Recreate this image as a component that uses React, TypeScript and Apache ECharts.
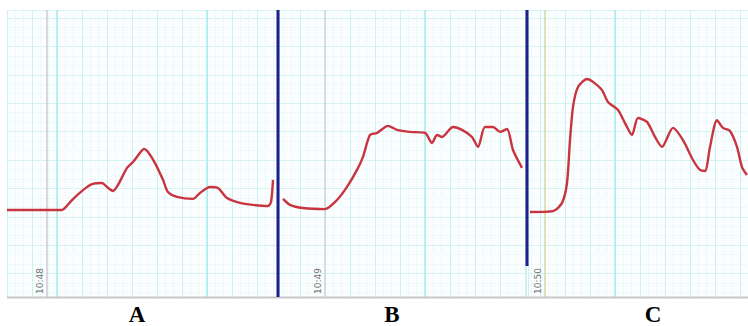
import React, { useEffect, useRef } from 'react';
import * as echarts from 'echarts';

// Panel labels and the clock times printed next to the event markers
const panelNames = ['A', 'B', 'C'];
const timeLabels = ['10:48', '10:49', '10:50'];
// x position (s) of the event marker in each panel
const markerTimes = [8, 10, 1];
// brighter cyan reference lines in each panel (s)
const highlightA = [10, 40];
const highlightB = [30];
const highlightC = [15];
// visible time window of each panel (s)
const rangeA = [0, 54];
const rangeB = [0.8, 50.2];
const rangeC = [-2.4, 41.6];
// vertical range (signal units)
const yRange = [-8.24, 92.8];

// traces: [time s, signal]
const traceA: [number, number][] = [
  [0, 22.4], [6, 22.4], [11, 22.4], [11.8, 23.5], [13, 25.9], [15.2, 29.4], [17, 31.5],
  [19, 31.9], [20, 30.5], [21.2, 29.1], [22.2, 31.2], [24, 37.2], [25.2, 39.3],
  [26.6, 42.5], [27.4, 43.9], [28.2, 42.8], [29.6, 38.9], [31.2, 33.0], [32.2, 28.7],
  [34, 27.0], [37.2, 26.3], [38.6, 28.4], [40.6, 30.5], [42.2, 30.1], [44, 26.6],
  [46.6, 24.9], [49.2, 24.2], [52.2, 23.8], [52.8, 25.2], [53.2, 33.0],
];
const traceB: [number, number][] = [
  [1.6, 26.3], [3, 24.2], [5.6, 23.1], [10, 22.7], [12.4, 25.9], [14.4, 30.5],
  [16.4, 36.5], [17.6, 41.1], [19, 48.8], [20.4, 49.5], [22.6, 52.0], [24.4, 50.6],
  [27, 49.9], [30, 49.5], [31.4, 46.0], [32.4, 48.8], [33.4, 48.1], [35.6, 51.6],
  [37.4, 50.6], [39.4, 48.1], [40.6, 44.6], [42, 51.6], [43.6, 51.6], [45, 49.9],
  [46.4, 50.9], [47.6, 43.5], [49.4, 37.2],
];
const traceC: [number, number][] = [
  [-2, 21.7], [2.6, 22.0], [4.4, 24.9], [5.4, 31.9], [6, 47.0], [6.6, 58.7],
  [7.6, 65.7], [9.4, 68.5], [10.6, 67.5], [12.4, 64.6], [13.6, 60.4], [15.6, 57.6],
  [17, 53.0], [18.4, 48.8], [19.6, 54.8], [21.4, 53.4], [23, 48.1], [24.4, 44.6],
  [26.6, 51.3], [28.6, 47.0], [30.6, 40.0], [32, 36.5], [33, 36.1], [34, 44.6],
  [35.4, 54.0], [36.6, 51.3], [38, 50.2], [39.4, 44.6], [40.4, 37.5], [41.4, 34.7],
];

const traces = [traceA, traceB, traceC];
const highlights = [highlightA, highlightB, highlightC];
const ranges = [rangeA, rangeB, rangeC];

export default function App() {
  const ref = useRef<HTMLDivElement>(null);
  useEffect(() => {
    document.body.style.margin = '0';
    if (!ref.current) return;
    const chart = echarts.init(ref.current, null, { renderer: 'svg' });
    const panels = [
      { left: 7, width: 270, split: 11 },
      { left: 279, width: 247, split: 10 },
      { left: 528, width: 220, split: 9 },
    ];
    const markerColors = ['#d2c8da', '#cfd6d6', '#d6d4a2'];
    const top = 10;
    const height = 287;
    const option: any = {
      animation: false,
      backgroundColor: '#ffffff',
      grid: panels.map((p) => ({
        left: p.left,
        width: p.width,
        top,
        height,
        show: true,
        backgroundColor: '#fbfefe',
        borderWidth: 0,
        containLabel: false,
      })),
      xAxis: panels.map((p, i) => ({
        type: 'value',
        gridIndex: i,
        min: ranges[i][0],
        max: ranges[i][1],
        splitNumber: p.split,
        axisLine: { show: false },
        axisTick: { show: false },
        axisLabel: { show: false },
        splitLine: { show: true, lineStyle: { color: '#cdf0f0', width: 1 } },
        minorTick: { show: false, splitNumber: 3 },
        minorSplitLine: { show: true, lineStyle: { color: '#e3f3f3', width: 1, type: 'dotted' } },
      })),
      yAxis: panels.map((p, i) => ({
        type: 'value',
        gridIndex: i,
        min: yRange[0],
        max: yRange[1],
        splitNumber: 10,
        axisLine: { show: false },
        axisTick: { show: false },
        axisLabel: { show: false },
        splitLine: { show: true, lineStyle: { color: '#d6f2f2', width: 1 } },
        minorTick: { show: false, splitNumber: 3 },
        minorSplitLine: { show: true, lineStyle: { color: '#e5f4f4', width: 1, type: 'dotted' } },
      })),
      series: traces.map((data, i) => ({
        type: 'line',
        xAxisIndex: i,
        yAxisIndex: i,
        data,
        showSymbol: false,
        smooth: 0.25,
        clip: true,
        lineStyle: { color: '#c8343f', width: 2.4 },
        z: 5,
        markLine: {
          silent: true,
          symbol: ['none', 'none'],
          animation: false,
          z: 2,
          data: [
            ...highlights[i].map((h) => ({
              xAxis: h,
              lineStyle: { color: '#a8ecec', width: 1.5, type: 'solid' },
              label: { show: false },
            })),
            {
              xAxis: markerTimes[i],
              name: timeLabels[i],
              lineStyle: { color: markerColors[i], width: 1.5, type: 'solid' },
              label: {
                show: true,
                formatter: '{b}',
                position: 'insideStartTop',
                color: '#707070',
                fontSize: 9,
                fontFamily: 'DejaVu Sans',
                distance: 3,
              },
            },
          ],
        },
      })),
      graphic: [
        {
          type: 'line',
          shape: { x1: 278, y1: top, x2: 278, y2: top + height },
          style: { stroke: '#1e1e8c', lineWidth: 3 },
          z: 10,
        },
        {
          type: 'line',
          shape: { x1: 527, y1: top, x2: 527, y2: 266 },
          style: { stroke: '#1e1e8c', lineWidth: 3 },
          z: 10,
        },
        {
          type: 'line',
          shape: { x1: 7, y1: 297.5, x2: 748, y2: 297.5 },
          style: { stroke: '#c8c8c8', lineWidth: 2 },
          z: 9,
        },
        ...panelNames.map((n, i) => ({
          type: 'text',
          x: [137, 392, 653][i],
          y: 303,
          style: {
            text: n,
            fill: '#000000',
            font: 'bold 23px "Liberation Serif"',
            textAlign: 'center',
            textVerticalAlign: 'top',
          },
          z: 10,
        })),
      ],
    };
    chart.setOption(option);
    return () => chart.dispose();
  }, []);
  return <div ref={ref} style={{ width: 748, height: 326 }} />;
}
